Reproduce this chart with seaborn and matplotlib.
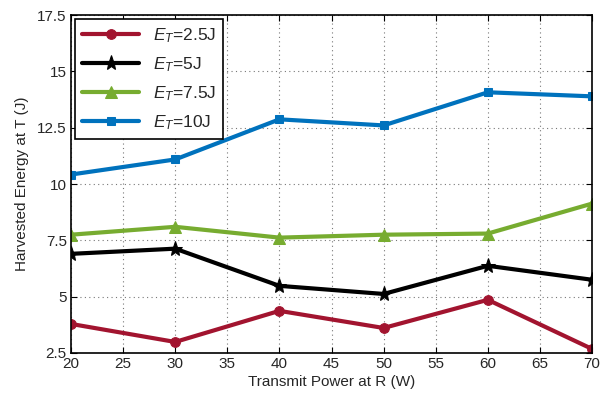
import matplotlib
matplotlib.use('Agg')
import matplotlib.pyplot as plt
import numpy as np
import pandas as pd
import seaborn as sns

# data
power = [20, 30, 40, 50, 60, 70]
e_25 = [3.79, 2.99, 4.37, 3.61, 4.86, 2.68]
e_5 = [6.90, 7.13, 5.48, 5.12, 6.37, 5.75]
e_75 = [7.75, 8.10, 7.62, 7.75, 7.80, 9.13]
e_10 = [10.42, 11.09, 12.87, 12.60, 14.07, 13.89]
labels = ['$E_T$=2.5J', '$E_T$=5J', '$E_T$=7.5J', '$E_T$=10J']

sns.set_style('ticks')
plt.rcParams['font.family'] = ['Liberation Sans', 'DejaVu Sans']
plt.rcParams['mathtext.fontset'] = 'custom'
plt.rcParams['mathtext.it'] = 'Liberation Sans:italic'
plt.rcParams['mathtext.rm'] = 'Liberation Sans'
plt.rcParams['font.size'] = 11

fig = plt.figure(figsize=(6.13, 3.96), dpi=100)
ax = fig.add_axes([0.1158, 0.1086, 0.850, 0.8535])

styles = [
    (e_25, '#A2142F', 'o', 7),
    (e_5, 'black', '*', 11),
    (e_75, '#77AC30', '^', 8),
    (e_10, '#0072BD', 's', 6),
]
for (vals, color, marker, ms), lab in zip(styles, labels):
    sns.lineplot(x=power, y=vals, ax=ax, color=color, marker=marker,
                 markersize=ms, markeredgecolor=color, linewidth=3, label=lab)

ax.set_xlim(20, 70)
ax.set_ylim(2.5, 17.5)
ax.set_xticks(np.arange(20, 71, 5))
ax.set_yticks([2.5, 5, 7.5, 10, 12.5, 15, 17.5])
ax.set_yticklabels(['2.5', '5', '7.5', '10', '12.5', '15', '17.5'])
ax.grid(True, linestyle=(0, (1, 3)), color='#777777', linewidth=0.8)
ax.tick_params(direction='in', top=True, right=True, labelsize=11, color='black',
               length=4, pad=3)
for s in ax.spines.values():
    s.set_visible(True)
    s.set_color('black')
    s.set_linewidth(1.2)

ax.set_xlabel('Transmit Power at R (W)', fontsize=11, labelpad=3)
ax.set_ylabel('Harvested Energy at T (J)', fontsize=11, labelpad=6)

leg = ax.legend(loc='upper left', bbox_to_anchor=(0.008, 0.988), borderaxespad=0,
                fancybox=False, edgecolor='black', framealpha=1, fontsize=12.5,
                handlelength=3.3, borderpad=0.4, labelspacing=0.6, handletextpad=0.8)
leg.get_frame().set_linewidth(1.2)

fig.savefig('out.png', dpi=100)
